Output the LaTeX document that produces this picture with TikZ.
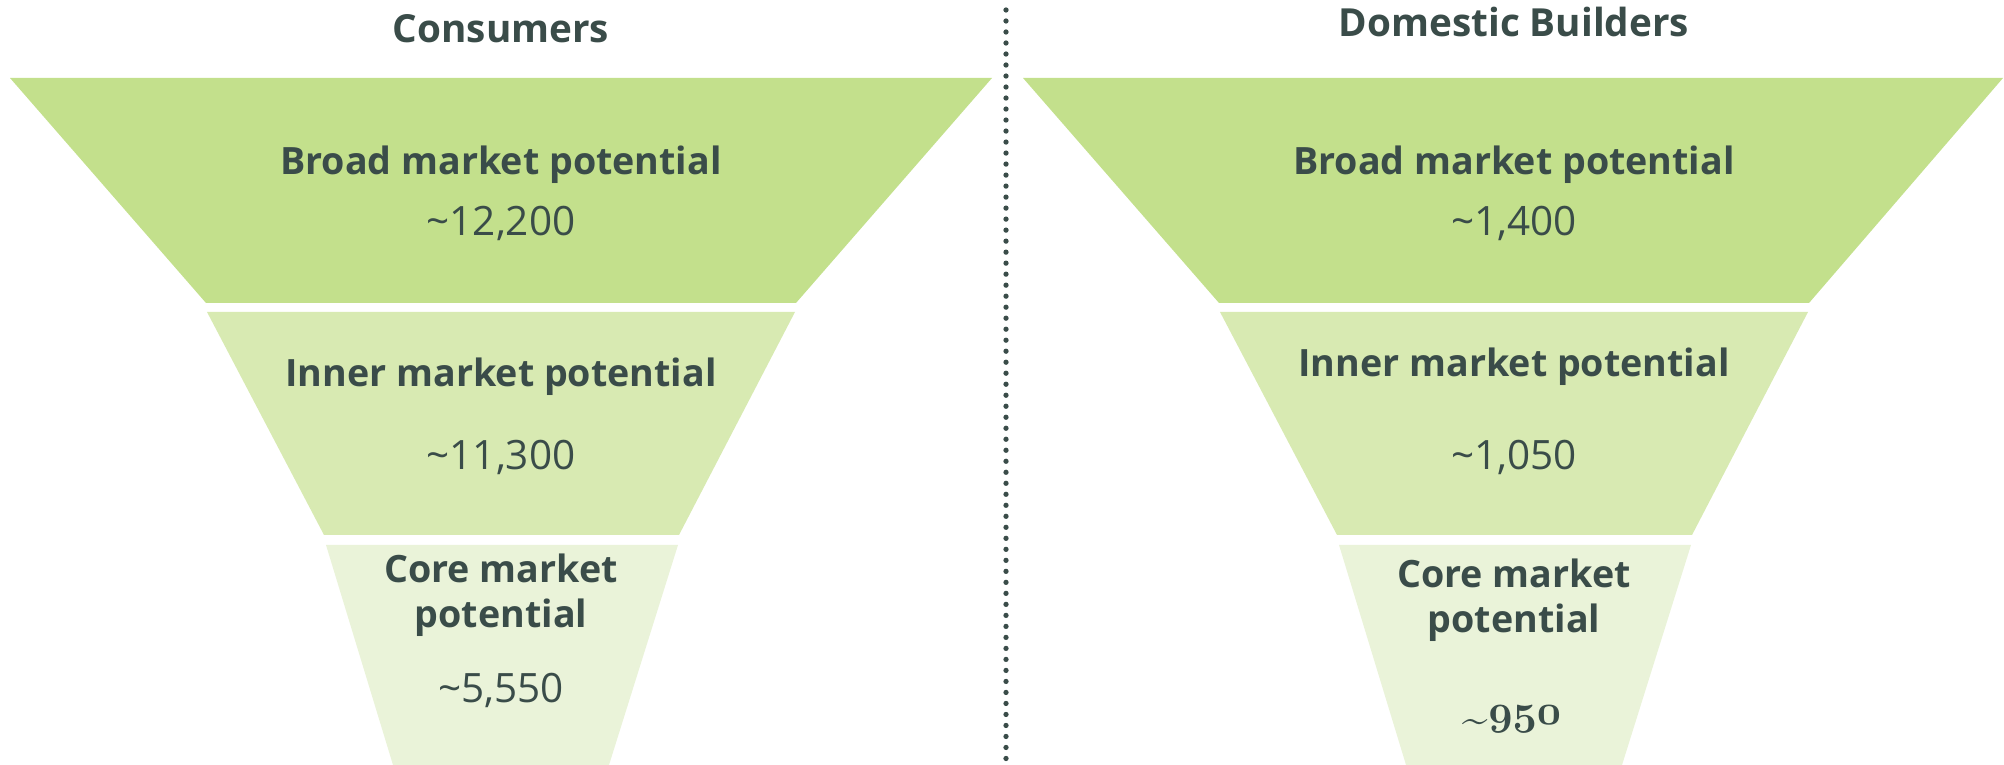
\documentclass[tikz,border=0pt]{standalone}
\usepackage{fontspec}
\setsansfont{Open Sans}
\usepackage{tikz}

\definecolor{inkSlate}{RGB}{58,76,73}
\definecolor{broadGreen}{RGB}{195,224,140}
\definecolor{innerGreen}{RGB}{216,234,178}
\definecolor{coreGreen}{RGB}{234,243,217}

\newcommand{\oldnums}[1]{{\usefont{OML}{cmm}{b}{it}#1}}

\begin{document}
\begin{tikzpicture} [x=0.01cm, y=-0.01cm]
            % Set primary nodes
            \tikzset{
                titleNode/.style={
                        anchor=base,
                        text=inkSlate,
                        font=\sffamily\bfseries\fontsize{11}{13}\selectfont
                    }
            }
            \tikzset{
                labelNode/.style={
                        anchor=base,
                        align=center,
                        text=inkSlate,
                        font=\sffamily\bfseries\fontsize{10.7}{12.8}\selectfont
                    }
            }
            \tikzset{
                valueNode/.style={
                        anchor=base,
                        text=inkSlate,
                        font=\sffamily\fontsize{11.5}{13}\selectfont
                    }
            }
            % Configure lines
            \tikzstyle{divider} = [inkSlate, line width=1.5pt, line cap=round, dash pattern=on 0pt off 3.13pt]
            \useasboundingbox (0,0) rectangle (2004,765);
            % Funnel bands
            \fill[broadGreen](10,78) -- (992,78) -- (796,303) -- (206,303) -- cycle;
            \fill[innerGreen](207,312) -- (795,312) -- (679,535) -- (324,535) -- cycle;
            \fill[coreGreen](326,545) -- (678,545) -- (609,765) -- (393,765) -- cycle;
            \fill[broadGreen](1023,78) -- (2003,78) -- (1809,303) -- (1219,303) -- cycle;
            \fill[innerGreen](1220,312) -- (1808,312) -- (1692,535) -- (1337,535) -- cycle;
            \fill[coreGreen](1339,545) -- (1691,545) -- (1622,765) -- (1406,765) -- cycle;
            % Placing nodes
            \node[titleNode](consumers) at (501,43){Consumers};
            \node[labelNode](consumersBroad) at (501,175){Broad market potential};
            \node[valueNode](consumersBroadValue) at (501,236){\textasciitilde12,200};
            \node[labelNode](consumersInner) at (501,387){Inner market potential};
            \node[valueNode](consumersInnerValue) at (501,470){\textasciitilde11,300};
            \node[labelNode](consumersCore) at (501,628){Core market\\potential};
            \node[valueNode](consumersCoreValue) at (501,703){\textasciitilde5,550};
            \node[titleNode](builders) at (1514,37){Domestic Builders};
            \node[labelNode](buildersBroad) at (1514,175){Broad market potential};
            \node[valueNode](buildersBroadValue) at (1514,236){\textasciitilde1,400};
            \node[labelNode](buildersInner) at (1514,377){Inner market potential};
            \node[valueNode](buildersInnerValue) at (1514,470){\textasciitilde1,050};
            \node[labelNode](buildersCore) at (1514,633){Core market\\potential};
            \node[valueNode, font=\fontsize{13}{15}\selectfont](buildersCoreValue) at (1512,725){{\fontfamily{lmr}\selectfont\raisebox{-0.45ex}{\textasciitilde}}\oldnums{950}};
            % Draw divider
            \coordinate (dividerTop) at (1006,10);
            \coordinate (dividerBottom) at (1006,765);
            \draw[divider](dividerTop) -- (dividerBottom);

        \end{tikzpicture}
\end{document}
